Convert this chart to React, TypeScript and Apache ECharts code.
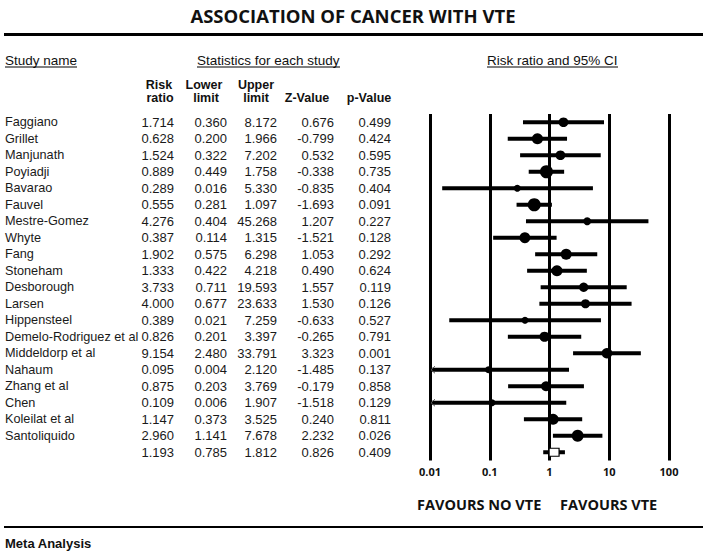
import React, { useEffect, useRef } from "react";
import * as echarts from "echarts";

const studyNames = [
  "Faggiano", "Grillet", "Manjunath", "Poyiadji", "Bavarao", "Fauvel", "Mestre-Gomez",
  "Whyte", "Fang", "Stoneham", "Desborough", "Larsen", "Hippensteel",
  "Demelo-Rodriguez et al", "Middeldorp et al", "Nahaum", "Zhang et al", "Chen",
  "Koleilat et al", "Santoliquido",
];
const riskRatio = [1.714, 0.628, 1.524, 0.889, 0.289, 0.555, 4.276, 0.387, 1.902, 1.333, 3.733, 4.0, 0.389, 0.826, 9.154, 0.095, 0.875, 0.109, 1.147, 2.96];
const lowerLimit = [0.36, 0.2, 0.322, 0.449, 0.016, 0.281, 0.404, 0.114, 0.575, 0.422, 0.711, 0.677, 0.021, 0.201, 2.48, 0.004, 0.203, 0.006, 0.373, 1.141];
const upperLimit = [8.172, 1.966, 7.202, 1.758, 5.33, 1.097, 45.268, 1.315, 6.298, 4.218, 19.593, 23.633, 7.259, 3.397, 33.791, 2.12, 3.769, 1.907, 3.525, 7.678];
const zValue = [0.676, -0.799, 0.532, -0.338, -0.835, -1.693, 1.207, -1.521, 1.053, 0.49, 1.557, 1.53, -0.633, -0.265, 3.323, -1.485, -0.179, -1.518, 0.24, 2.232];
const pValue = [0.499, 0.424, 0.595, 0.735, 0.404, 0.091, 0.227, 0.128, 0.292, 0.624, 0.119, 0.126, 0.527, 0.791, 0.001, 0.137, 0.858, 0.129, 0.811, 0.026];

const summaryRiskRatio = 1.193;
const summaryLower = 0.785;
const summaryUpper = 1.812;
const summaryZ = 0.826;
const summaryP = 0.409;

const tickLabels = ["0.01", "0.1", "1", "10", "100"];

const fmt = (v: number) => v.toFixed(3);

const TABLE_FONT = "'Liberation Sans', Arial, sans-serif";
const HEAD_FONT = "'Liberation Sans', Arial, sans-serif";
const BOLD_FONT = "'Open Sans', 'Noto Sans', sans-serif";

export default function App() {
  const ref = useRef<HTMLDivElement>(null);

  useEffect(() => {
    if (!ref.current) return;
    const chart = echarts.init(ref.current, null, { renderer: "svg" });

    const nRows = studyNames.length + 1;
    const rowNames = [...studyNames, ""];
    const colRR = [...riskRatio, summaryRiskRatio].map(fmt);
    const colLo = [...lowerLimit, summaryLower].map(fmt);
    const colHi = [...upperLimit, summaryUpper].map(fmt);
    const colZ = [...zValue, summaryZ].map(fmt);
    const colP = [...pValue, summaryP].map(fmt);

    // marker diameter from the study's weight (derived from its CI width)
    const studyData = studyNames.map((_, i) => {
      const se = (Math.log(upperLimit[i]) - Math.log(lowerLimit[i])) / (2 * 1.96);
      const w = 1 / (se * se + 0.3);
      const d = 3 + 6.5 * Math.sqrt(w);
      return [riskRatio[i], i, lowerLimit[i], upperLimit[i], d];
    });

    const mkY = (data: string[], offset: number, align: string, size: number) => ({
      type: "category",
      data,
      inverse: true,
      position: "left",
      offset,
      axisLine: { show: false },
      axisTick: { show: false },
      splitLine: { show: false },
      axisLabel: {
        interval: 0,
        margin: 0,
        align,
        fontSize: size,
        fontFamily: TABLE_FONT,
        color: "#1a1a1a",
      },
    });

    const txt = (text: string, x: number, y: number, font: string, align = "left") => ({
      type: "text",
      x,
      y,
      style: {
        text,
        font,
        fill: "#111",
        textAlign: align,
        textVerticalAlign: "middle",
      },
    });
    const ln = (x1: number, y1: number, x2: number, y2: number, w: number) => ({
      type: "line",
      shape: { x1, y1, x2, y2 },
      style: { stroke: "#000", lineWidth: w },
    });

    const colHead = `bold 12.5px ${TABLE_FONT}`;

    chart.setOption({
      animation: false,
      grid: { left: 430, right: 37, top: 114, bottom: 93.5, containLabel: false },
      xAxis: {
        type: "log",
        logBase: 10,
        min: 0.01,
        max: 100,
        axisLine: { show: false },
        axisTick: { show: false },
        splitLine: { show: true, lineStyle: { color: "#000", width: 3 } },
        axisLabel: {
          formatter: (_v: number, i: number) => tickLabels[i] ?? "",
          fontFamily: BOLD_FONT,
          fontWeight: "bold",
          fontSize: 11,
          color: "#111",
          margin: 5,
        },
      },
      yAxis: [
        mkY(rowNames, 425, "left", 12.7),
        mkY(colRR, 256, "right", 13),
        mkY(colLo, 203, "right", 13),
        mkY(colHi, 153, "right", 13),
        mkY(colZ, 96, "right", 13),
        mkY(colP, 39, "right", 13),
      ],
      series: [
        {
          type: "custom",
          yAxisIndex: 0,
          encode: { x: 0, y: 1 },
          data: studyData,
          renderItem: (params: any, api: any) => {
            const cs = params.coordSys;
            const idx = api.value(1);
            const rr = api.value(0);
            const lo = api.value(2);
            const hi = api.value(3);
            const d = api.value(4);
            const y = api.coord([1, idx])[1];
            const xLo = Math.max(api.coord([lo, idx])[0], cs.x);
            const xHi = Math.min(api.coord([hi, idx])[0], cs.x + cs.width);
            const xc = api.coord([rr, idx])[0];
            const children: any[] = [
              { type: "line", shape: { x1: xLo, y1: y, x2: xHi, y2: y }, style: { stroke: "#000", lineWidth: 4 } },
              { type: "circle", shape: { cx: xc, cy: y, r: d / 2 }, style: { fill: "#000" } },
            ];
            if (lo < 0.01) {
              children.push({
                type: "polyline",
                shape: { points: [[cs.x + 5, y - 3.5], [cs.x + 1, y], [cs.x + 5, y + 3.5]] },
                style: { stroke: "#555", fill: "none", lineWidth: 1 },
              });
            }
            return { type: "group", children };
          },
        },
        {
          type: "custom",
          yAxisIndex: 0,
          encode: { x: 0, y: 1 },
          data: [[summaryRiskRatio, nRows - 1, summaryLower, summaryUpper]],
          renderItem: (_params: any, api: any) => {
            const idx = api.value(1);
            const y = api.coord([1, idx])[1];
            const xLo = api.coord([api.value(2), idx])[0];
            const xHi = api.coord([api.value(3), idx])[0];
            const xc = api.coord([api.value(0), idx])[0];
            return {
              type: "group",
              children: [
                { type: "line", shape: { x1: xLo, y1: y, x2: xHi, y2: y }, style: { stroke: "#000", lineWidth: 4 } },
                { type: "rect", shape: { x: xc - 5, y: y - 4, width: 10, height: 8 }, style: { fill: "#fff", stroke: "#000", lineWidth: 1.2 } },
              ],
            };
          },
        },
      ],
      graphic: [
        txt("ASSOCIATION OF CANCER WITH VTE", 353, 15, `bold 18.5px ${BOLD_FONT}`, "center"),
        ln(4, 34.5, 703, 34.5, 3),
        txt("Study name", 5, 60, `13.5px ${HEAD_FONT}`),
        ln(5, 67, 77, 67, 1),
        txt("Statistics for each study", 197, 60, `13.5px ${HEAD_FONT}`),
        ln(197, 67, 340, 67, 1),
        txt("Risk ratio and 95% CI", 487, 60, `13.5px ${HEAD_FONT}`),
        ln(487, 67, 618, 67, 1),
        txt("Risk", 159, 85, colHead, "center"),
        txt("ratio", 160, 98, colHead, "center"),
        txt("Lower", 204, 85, colHead, "center"),
        txt("limit", 206, 98, colHead, "center"),
        txt("Upper", 256, 85, colHead, "center"),
        txt("limit", 256, 98, colHead, "center"),
        txt("Z-Value", 307, 98, colHead, "center"),
        txt("p-Value", 369, 98, colHead, "center"),
        txt("FAVOURS NO VTE", 417, 504, `bold 14.5px ${BOLD_FONT}`),
        txt("FAVOURS VTE", 560, 504, `bold 14.5px ${BOLD_FONT}`),
        ln(4, 527, 703, 527, 2),
        txt("Meta Analysis", 5, 543, `bold 13px ${TABLE_FONT}`),
      ],
    });

    return () => chart.dispose();
  }, []);

  return <div ref={ref} style={{ width: 706, height: 554, position: "absolute", left: 0, top: 0, background: "#fff" }} />;
}
